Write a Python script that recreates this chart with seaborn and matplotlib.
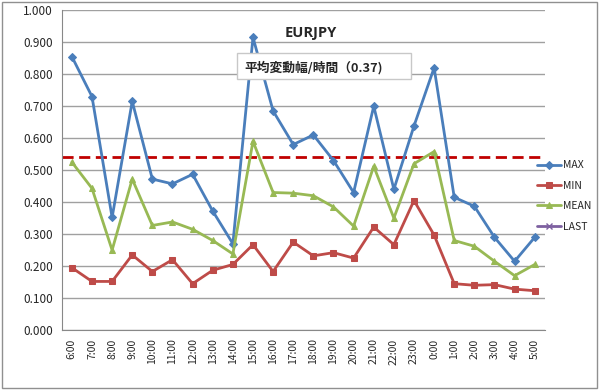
import numpy as np
import pandas as pd
import matplotlib
matplotlib.use("Agg")
import matplotlib.pyplot as plt
import seaborn as sns

hours = ['6:00', '7:00', '8:00', '9:00', '10:00', '11:00', '12:00', '13:00',
         '14:00', '15:00', '16:00', '17:00', '18:00', '19:00', '20:00', '21:00',
         '22:00', '23:00', '0:00', '1:00', '2:00', '3:00', '4:00', '5:00']
max_vals = [0.855, 0.730, 0.352, 0.715, 0.472, 0.457, 0.487, 0.372, 0.270, 0.915,
            0.685, 0.580, 0.610, 0.530, 0.430, 0.700, 0.440, 0.638, 0.820, 0.415,
            0.387, 0.290, 0.215, 0.290]
min_vals = [0.195, 0.152, 0.152, 0.235, 0.183, 0.220, 0.145, 0.187, 0.205, 0.267,
            0.183, 0.275, 0.232, 0.242, 0.225, 0.322, 0.267, 0.405, 0.297, 0.145,
            0.140, 0.142, 0.128, 0.123]
mean_vals = [0.525, 0.443, 0.250, 0.472, 0.327, 0.338, 0.315, 0.280, 0.238, 0.590,
             0.430, 0.428, 0.420, 0.385, 0.325, 0.512, 0.350, 0.520, 0.558, 0.280,
             0.262, 0.215, 0.170, 0.205]
avg_line = 0.540
title = 'EURJPY'
box_text = '平均変動幅/時間（0.37)'

sns.set_style("white")
plt.rcParams['font.family'] = ['Noto Sans CJK JP', 'DejaVu Sans']

fig = plt.figure(figsize=(6, 3.92), dpi=100)
ax = fig.add_axes([0.103, 0.158, 0.805, 0.816])

x = np.arange(len(hours))
series = [
    ('MAX', max_vals, '#4A7EBB', 'D', 4),
    ('MIN', min_vals, '#BE4B48', 's', 5),
    ('MEAN', mean_vals, '#98B954', '^', 5),
]
handles = []
for name, vals, color, marker, ms in series:
    df = pd.DataFrame({'x': x, 'y': vals})
    sns.lineplot(data=df, x='x', y='y', ax=ax, color=color, linewidth=2,
                 marker=marker, markersize=ms, markeredgecolor=color, zorder=3)
    handles.append(ax.lines[-1])
last_handle, = ax.plot([], [], color='#7D60A0', linewidth=2, marker='x', markersize=5)
handles.append(last_handle)

ax.axhline(avg_line, xmin=0, xmax=0.99, color='#C00000', linestyle=(0, (4, 2)),
           linewidth=2, zorder=2.5)

# text box drawn over the lines
ax.add_patch(plt.Rectangle((0.362, 0.784), 0.362, 0.082, transform=ax.transAxes,
                           facecolor='white', edgecolor='#C8C8C8', linewidth=1, zorder=4))
ax.text(0.379, 0.819, box_text, transform=ax.transAxes, ha='left', va='center',
        fontsize=9.2, fontweight='bold', zorder=5)

ax.set_xlim(-0.5, len(hours) - 0.5)
ax.set_ylim(0, 1.0)
ax.set_yticks(np.arange(0, 1.01, 0.1))
ax.set_yticklabels(['%.3f' % v for v in np.arange(0, 1.01, 0.1)], fontsize=8.5)
ax.set_xticks(x)
ax.set_xticklabels(hours, rotation=90, fontsize=7.5)
ax.set_xticks(np.arange(-0.5, len(hours), 1), minor=True)
ax.tick_params(axis='x', which='major', length=0, pad=6)
ax.tick_params(axis='x', which='minor', length=4, color='#888888', direction='out')
ax.tick_params(axis='y', length=3, color='#888888')
ax.set_xlabel('')
ax.set_ylabel('')
ax.yaxis.grid(True, color='#A0A0A0', linewidth=1)
ax.xaxis.grid(False)
ax.set_axisbelow(True)
for s in ['top', 'right']:
    ax.spines[s].set_visible(False)
for s in ['left', 'bottom']:
    ax.spines[s].set_color('#888888')

ax.text(0.515, 0.93, title, transform=ax.transAxes, ha='center', va='center',
        fontsize=10.5, fontweight='bold', family=['Open Sans', 'DejaVu Sans'])

fig.legend(handles, ['MAX', 'MIN', 'MEAN', 'LAST'], loc='upper left',
           bbox_to_anchor=(0.88, 0.615), frameon=False, fontsize=7.5,
           handlelength=2.3, handletextpad=0.2, labelspacing=1.0)

fig.patches.append(plt.Rectangle((0.003, 0.01), 0.992, 0.985, transform=fig.transFigure,
                                 fill=False, edgecolor='#909090', linewidth=1))

fig.savefig('out.png', dpi=100)
